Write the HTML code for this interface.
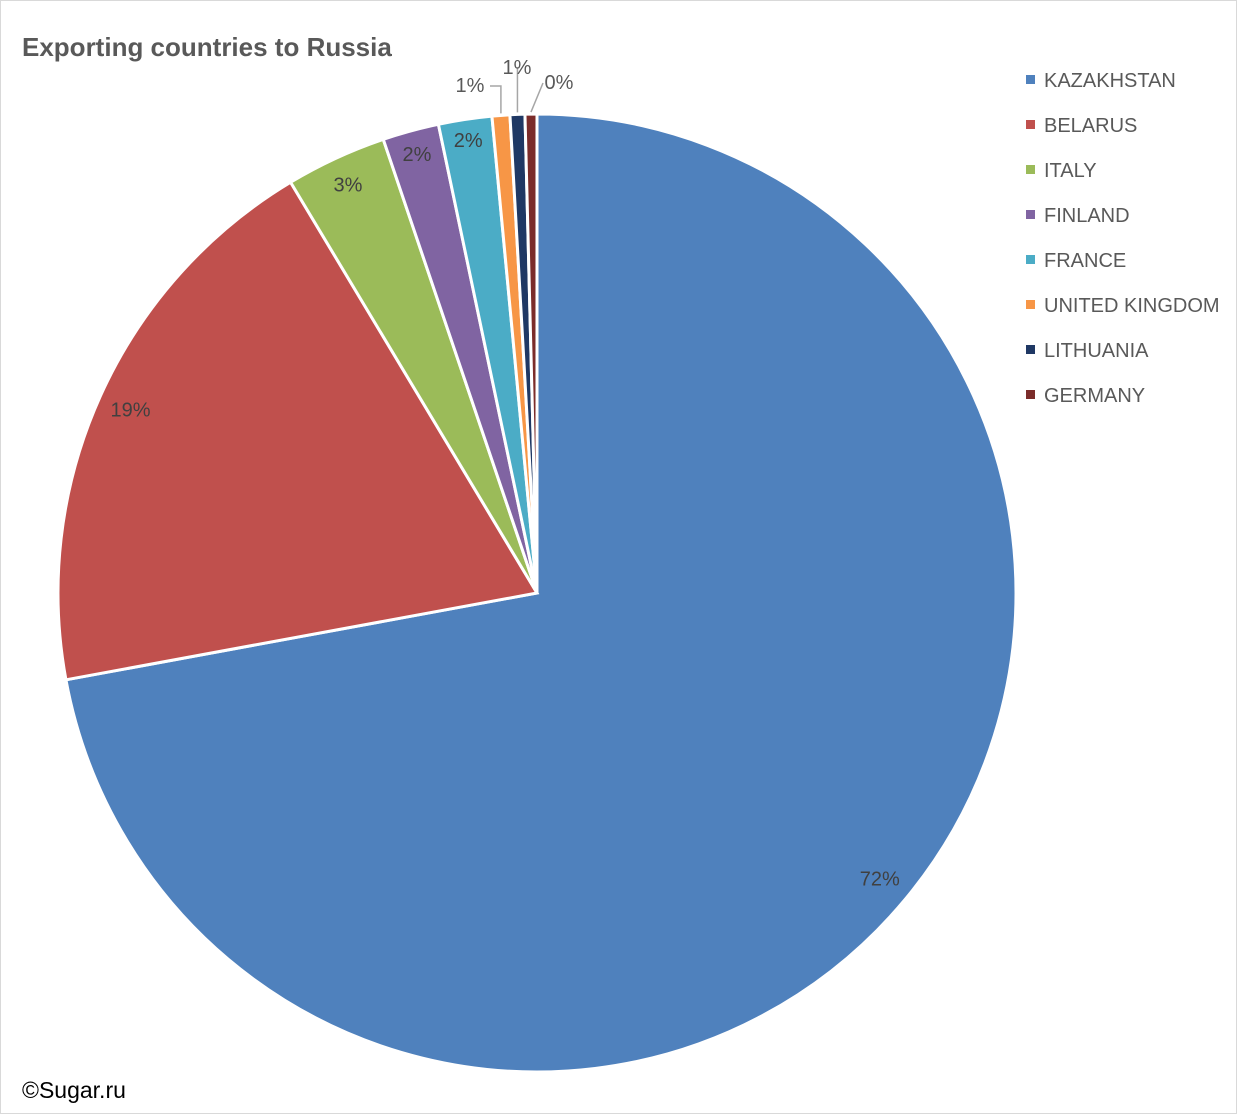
<!DOCTYPE html>
<html><head><meta charset="utf-8"><style>
html,body{margin:0;padding:0;background:#fff}
svg{display:block;font-family:"Liberation Sans",Calibri,sans-serif}
</style></head><body>
<svg id="chart" width="1237" height="1114" viewBox="0 0 1237 1114">
<rect x="0.5" y="0.5" width="1236" height="1113" fill="#fff" stroke="#d9d9d9"/>
<text x="22" y="56" font-size="26" font-weight="bold" fill="#595959">Exporting countries to Russia</text>
<text x="22" y="1098" font-size="23" fill="#000">©Sugar.ru</text>
<g id="slices"></g><g id="labels"></g><g id="legend"></g>
</svg>
<script>
const categories=["KAZAKHSTAN","BELARUS","ITALY","FINLAND","FRANCE","UNITED KINGDOM","LITHUANIA","GERMANY"];
const values=[72.1,19.3,3.4,1.9,1.8,0.6,0.5,0.4];
const colors=["#4F81BD","#C0504D","#9BBB59","#8064A2","#4BACC6","#F79646","#1F3864","#7B2C2A"];
const NS="http://www.w3.org/2000/svg";
const cx=537,cy=593,R=479;
const total=values.reduce((a,b)=>a+b,0);
function pt(a,r){return [cx+r*Math.sin(a),cy-r*Math.cos(a)];}
const gS=document.getElementById('slices'),gL=document.getElementById('labels'),gG=document.getElementById('legend');
let a0=0;
const outside={5:[470,92,-3],6:[517,74,0],7:[559,89,2]};
values.forEach((v,i)=>{
  const a1=a0+v/total*2*Math.PI;
  const p0=pt(a0,R),p1=pt(a1,R);
  const large=(a1-a0)>Math.PI?1:0;
  const p=document.createElementNS(NS,'path');
  p.setAttribute('d',`M${cx},${cy}L${p0[0]},${p0[1]}A${R},${R} 0 ${large} 1 ${p1[0]},${p1[1]}Z`);
  p.setAttribute('fill',colors[i]);p.setAttribute('stroke','#fff');p.setAttribute('stroke-width','3');
  
  
  gS.appendChild(p);
  const mid=(a0+a1)/2;
  const t=document.createElementNS(NS,'text');
  t.textContent=Math.round(v/total*100)+'%';
  t.setAttribute('font-size','20');t.setAttribute('fill','#404040');t.setAttribute('text-anchor','middle');
  
  
  if(outside[i]){
    const o=outside[i];
    t.setAttribute('x',o[0]);t.setAttribute('y',o[1]);t.setAttribute('fill','#595959');
    const e=pt(mid,R);
    const l=document.createElementNS(NS,'polyline');
    const lx=i===5?o[0]+20:(i===6?o[0]:o[0]-16);
    l.setAttribute('points',`${lx},${o[1]-6} ${e[0]},${o[1]-6} ${e[0]},${e[1]-2}`);
    if(i===7)l.setAttribute('points',`${o[0]-16},${o[1]-6} ${e[0]},${e[1]-2}`);
    l.setAttribute('fill','none');l.setAttribute('stroke','#a6a6a6');l.setAttribute('stroke-width','1.5');
    
    
    gL.appendChild(l);
  } else {
    const r=i<2?446:(i===2?450:(i===3?455:458));
    const q=pt(mid,r);
    t.setAttribute('x',q[0]);t.setAttribute('y',q[1]+7);
  }
  gL.appendChild(t);
  a0=a1;
  const y=80+45*i;
  const s=document.createElementNS(NS,'rect');
  s.setAttribute('x',1026);s.setAttribute('y',y-5);s.setAttribute('width',9);s.setAttribute('height',9);s.setAttribute('fill',colors[i]);
  
  
  gG.appendChild(s);
  const lt=document.createElementNS(NS,'text');
  lt.textContent=categories[i];lt.setAttribute('x',1044);lt.setAttribute('y',y+7);
  lt.setAttribute('font-size','20');lt.setAttribute('fill','#595959');
  
  
  gG.appendChild(lt);
});
</script>
</body></html>
